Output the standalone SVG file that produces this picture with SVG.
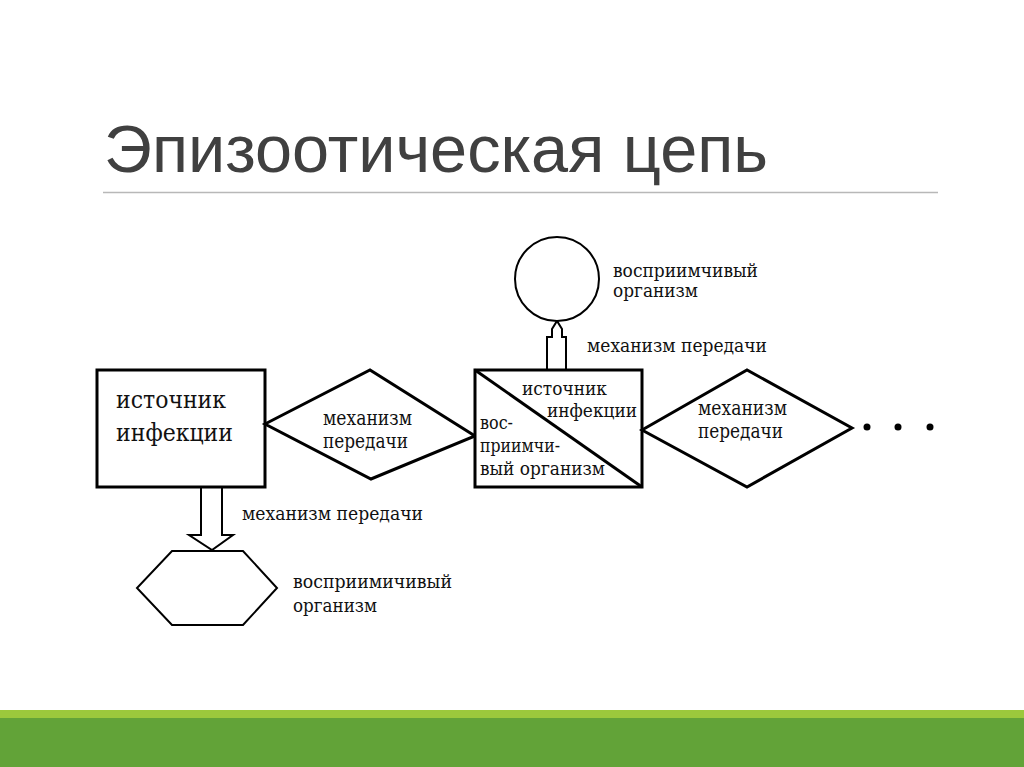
<svg xmlns="http://www.w3.org/2000/svg" width="1024" height="767" viewBox="0 0 1024 767">
<style>
.lbl{fill:#111;}
.shape{fill:#fff;stroke:#000;stroke-linejoin:miter;}
.thick{stroke-width:3;}
.thin{stroke-width:2;}
</style>
<rect x="0" y="0" width="1024" height="767" fill="#fff"/>
<text x="104" y="172" font-family="Liberation Sans, Arial, sans-serif" font-size="66" fill="#404040" textLength="664" lengthAdjust="spacingAndGlyphs">Эпизоотическая цепь</text>
<line x1="103" y1="192.5" x2="938" y2="192.5" stroke="#b8b8b8" stroke-width="1.5"/>

<g id="connectors">
  <path class="shape thin" d="M201,487 V535 H189 L212,550 L233,535 H222 V487"/>
  <path class="shape thin" d="M547,370 V337 H552 V329 L557,321 L562,329 V337 H566 V370"/>
  <circle cx="867" cy="427" r="3.5" fill="#000"/>
  <circle cx="898" cy="427" r="3.5" fill="#000"/>
  <circle cx="930" cy="427" r="3.5" fill="#000"/>
</g>

<g font-family="DejaVu Serif, Liberation Serif, serif">
<g id="source">
  <rect class="shape thick" x="97" y="370" width="168" height="117"/>
  <text class="lbl" x="116" y="408" font-size="25" textLength="110" lengthAdjust="spacingAndGlyphs">источник</text>
  <text class="lbl" x="116" y="441" font-size="25" textLength="117" lengthAdjust="spacingAndGlyphs">инфекции</text>
</g>

<g id="mech1">
  <polygon class="shape thick" points="265,424 370,370 475,436 371,479"/>
  <text class="lbl" x="323" y="425" font-size="20" textLength="89" lengthAdjust="spacingAndGlyphs">механизм</text>
  <text class="lbl" x="323" y="448" font-size="20" textLength="85" lengthAdjust="spacingAndGlyphs">передачи</text>
</g>

<g id="middle">
  <rect class="shape thick" x="475" y="370" width="167" height="117"/>
  <line x1="475" y1="370" x2="642" y2="487" stroke="#000" stroke-width="3"/>
  <text class="lbl" x="522" y="395" font-size="19" textLength="85" lengthAdjust="spacingAndGlyphs">источник</text>
  <text class="lbl" x="547" y="417" font-size="19" textLength="90" lengthAdjust="spacingAndGlyphs">инфекции</text>
  <text class="lbl" x="480" y="429" font-size="19" textLength="33" lengthAdjust="spacingAndGlyphs">вос-</text>
  <text class="lbl" x="480" y="452" font-size="19" textLength="80" lengthAdjust="spacingAndGlyphs">приимчи-</text>
  <text class="lbl" x="480" y="475" font-size="19" textLength="125" lengthAdjust="spacingAndGlyphs">вый организм</text>
</g>

<g id="mech2">
  <polygon class="shape thick" points="642,430 747,370 852,428 747,487"/>
  <text class="lbl" x="698" y="415" font-size="20" textLength="89" lengthAdjust="spacingAndGlyphs">механизм</text>
  <text class="lbl" x="698" y="438" font-size="20" textLength="85" lengthAdjust="spacingAndGlyphs">передачи</text>
</g>

<g id="circle-host">
  <circle class="shape thin" cx="557" cy="279" r="42"/>
  <text class="lbl" x="613" y="277" font-size="18" textLength="145" lengthAdjust="spacingAndGlyphs">восприимчивый</text>
  <text class="lbl" x="613" y="297" font-size="18" textLength="85" lengthAdjust="spacingAndGlyphs">организм</text>
</g>

<g id="mech-up-label">
  <text class="lbl" x="587" y="352" font-size="18" textLength="180" lengthAdjust="spacingAndGlyphs">механизм  передачи</text>
</g>

<g id="mech-down-label">
  <text class="lbl" x="242" y="520" font-size="18" textLength="181" lengthAdjust="spacingAndGlyphs">механизм  передачи</text>
</g>

<g id="hex-host">
  <polygon class="shape thin" points="172,551 243,551 277,588 243,625 172,625 137,588"/>
  <text class="lbl" x="293" y="588" font-size="18" textLength="159" lengthAdjust="spacingAndGlyphs">восприимичивый</text>
  <text class="lbl" x="293" y="612" font-size="18" textLength="84" lengthAdjust="spacingAndGlyphs">организм</text>
</g>
</g>

<rect x="0" y="710" width="1024" height="8" fill="#9bc83c"/>
<rect x="0" y="718" width="1024" height="49" fill="#62a338"/>
</svg>
